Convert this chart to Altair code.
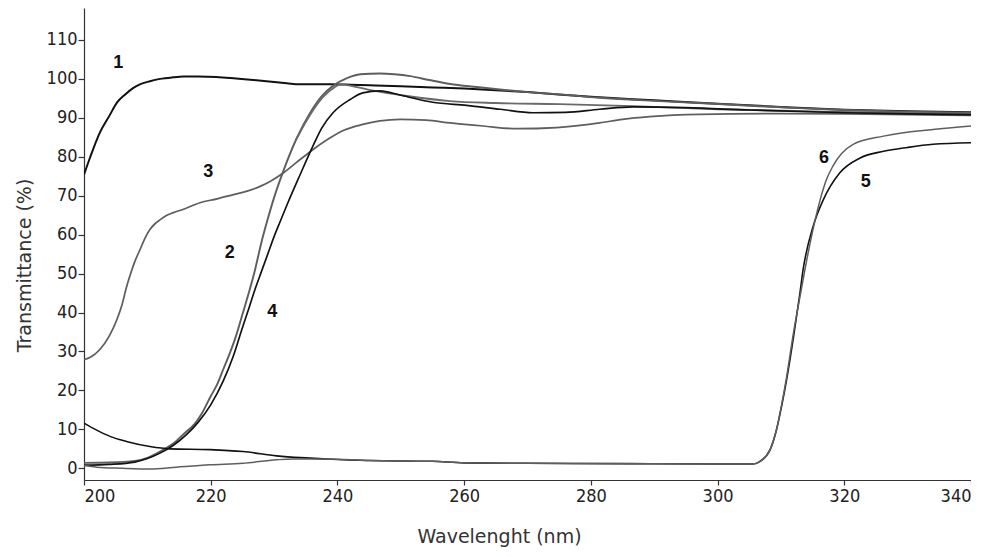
import altair as alt
import pandas as pd

# ---- data ----
c1_wl = [200, 201, 202.5, 204, 205.2, 206.5, 207.8, 209, 210.4, 212, 214, 215.7, 218, 220.9, 224, 228.8, 232, 234, 238.8, 242, 246, 250, 255, 260, 265, 270, 280, 290, 300, 310, 320, 330, 340]
c1_val = [75.4, 80, 86.2, 90.5, 93.9, 96, 97.7, 98.7, 99.4, 100, 100.4, 100.6, 100.6, 100.5, 100.1, 99.4, 98.9, 98.6, 98.6, 98.5, 98.3, 98.1, 97.8, 97.5, 97.1, 96.6, 95.4, 94.5, 93.6, 92.8, 92.1, 91.7, 91.4]

c2_wl = [200, 204, 208, 210, 212, 214.5, 216, 217.5, 218.5, 220, 221, 222, 223, 224, 225, 226, 227, 228, 229, 230, 231.5, 233.5, 235.7, 237.5, 239.3, 241.5, 243.6, 246.7, 249, 251.5, 254.5, 257.8, 262, 266, 270, 276, 281, 287, 297, 310, 320, 330, 340]
c2_val = [1.4, 1.5, 1.9, 2.7, 4.3, 6.9, 9.2, 11.5, 13.8, 18.5, 21.5, 25.5, 29.5, 34, 39.5, 45, 51, 58, 64, 69.5, 76.5, 84.5, 91.3, 95.5, 98.2, 100.2, 101.2, 101.4, 101.2, 100.7, 99.7, 98.7, 97.9, 97.2, 96.6, 95.9, 95.2, 94.6, 93.8, 92.7, 92.0, 91.6, 91.3]

c2b_wl = [233.5, 235.9, 237.7, 239.5, 240.5, 242.5, 245, 247, 251, 257.8, 265, 275, 286.7, 300, 320, 340]
c2b_val = [84.5, 91.3, 95.3, 97.8, 98.6, 98.1, 97.2, 96.6, 95.6, 94.3, 93.8, 93.5, 93.0, 92.2, 91.5, 91.0]

c3_wl = [200, 201, 202.5, 204, 205.2, 206, 206.7, 207.3, 208, 208.8, 209.6, 210.4, 211.2, 212, 213, 214, 215.5, 218.3, 221, 223.6, 226, 227.8, 229.5, 231.5, 233.5, 235.7, 238.8, 241, 244, 246.7, 249.9, 254, 257.8, 263, 268.3, 274.6, 281.4, 285, 289.3, 297.2, 310, 320, 330, 340]
c3_val = [27.9, 28.5, 30.5, 34, 38.2, 42, 46.5, 49.7, 53, 56, 59, 61.3, 62.8, 63.8, 64.9, 65.6, 66.4, 68.2, 69.2, 70.3, 71.3, 72.4, 73.8, 75.9, 78.5, 81.3, 84.8, 86.8, 88.3, 89.2, 89.6, 89.4, 88.7, 87.9, 87.2, 87.5, 88.7, 89.6, 90.3, 90.9, 91.1, 91.0, 90.8, 90.6]

c4_wl = [200, 204, 208, 210, 212, 214, 216, 218, 220, 222, 223.5, 224.9, 226, 227, 228, 229, 230, 231, 232, 234, 236.2, 237.5, 239.3, 242, 244, 246.7, 250, 255, 260.4, 265.7, 270.9, 276, 281.4, 286.7, 295, 305, 320, 330, 340]
c4_val = [0.8, 1.0, 1.6, 2.5, 3.9, 5.8, 8.4, 11.8, 16.3, 22.5, 28.5, 35.6, 41, 46, 50.5, 55, 59.5, 63.5, 67.5, 75, 83, 87.3, 91.3, 94.7, 96.4, 96.9, 95.8, 94.0, 93.2, 92.2, 91.3, 91.4, 92.2, 92.8, 92.6, 92.0, 91.3, 91.0, 90.8]

c5_wl = [200, 202, 204.1, 206.7, 210.4, 213.6, 219.9, 225.1, 230.4, 238.3, 245, 255, 260, 270, 286, 300, 305.6, 306.7, 308.3, 309.3, 310.1, 310.9, 312, 313, 313.5, 315.1, 316.7, 319.3, 322.5, 326.2, 330, 334, 340]
c5_val = [11.6, 9.8, 8.2, 6.9, 5.6, 5.0, 4.8, 4.3, 3.2, 2.4, 2.0, 1.8, 1.4, 1.3, 1.2, 1.1, 1.1, 1.8, 4.8, 9.9, 15.9, 22.8, 33.9, 45, 51, 62.2, 69, 75.9, 79.7, 81.4, 82.4, 83.2, 83.6]

c6_wl = [200, 202, 206, 210.4, 214.6, 219.9, 225.1, 230.4, 233, 238.3, 245, 255, 260, 270, 286, 300, 305.6, 306.7, 308.3, 309.3, 310.1, 310.9, 312, 313, 314.5, 316.2, 317.2, 318.2, 321.4, 326.2, 334, 340]
c6_val = [0.7, 0.3, 0.0, -0.2, 0.3, 0.9, 1.3, 2.2, 2.4, 2.4, 2.0, 1.8, 1.4, 1.3, 1.2, 1.1, 1.1, 1.8, 4.8, 9.9, 16.2, 23.5, 35, 44, 57, 69, 74.2, 77.6, 83.2, 85.3, 87.0, 87.9]

label_text = ["1", "2", "3", "4", "5", "6"]
label_wl = [205.4, 223.0, 219.6, 229.7, 323.4, 316.8]
label_val = [104.1, 55.4, 76.2, 40.2, 73.6, 79.8]

x_ticks = [200, 220, 240, 260, 280, 300, 320, 340]
y_ticks = [0, 10, 20, 30, 40, 50, 60, 70, 80, 90, 100, 110]

series = [
    ("1", c1_wl, c1_val),
    ("2", c2_wl, c2_val),
    ("2b", c2b_wl, c2b_val),
    ("3", c3_wl, c3_val),
    ("4", c4_wl, c4_val),
    ("5", c5_wl, c5_val),
    ("6", c6_wl, c6_val),
]
rows = []
for name, wl, val in series:
    for i, (a, b) in enumerate(zip(wl, val)):
        rows.append({"series": name, "wl": a, "val": b, "i": i})
df = pd.DataFrame(rows)
lab = pd.DataFrame({"t": label_text, "wl": label_wl, "val": label_val})

names = ["1", "2", "2b", "3", "4", "5", "6"]
colors = ["#111111", "#5e5e5e", "#6a6a6a", "#5e5e5e", "#111111", "#111111", "#5e5e5e"]
widths = [2.0, 1.5, 1.4, 1.6, 2.0, 2.0, 1.6]

xs = alt.Scale(domain=[200, 340], nice=False, zero=False)
ys = alt.Scale(domain=[-3, 118.2], nice=False, zero=False)

lines = alt.Chart(df).mark_line(interpolate="monotone", clip=True).encode(
    x=alt.X("wl:Q", scale=xs, axis=alt.Axis(
        values=x_ticks, title="Wavelenght (nm)", format="d",
        titleX=415, titleY=62, titleBaseline="alphabetic", titleAlign="center")),
    y=alt.Y("val:Q", scale=ys, axis=alt.Axis(
        values=y_ticks, title="Transmittance (%)", format="d",
        titleX=-54, titleY=257, titleAngle=-90, titleBaseline="alphabetic", titleAlign="center")),
    color=alt.Color("series:N", scale=alt.Scale(domain=names, range=colors), legend=None),
    strokeWidth=alt.StrokeWidth("series:N", scale=alt.Scale(domain=names, range=widths), legend=None),
    order="i:Q",
)

labels = alt.Chart(lab).mark_text(
    font="Liberation Sans", fontSize=18, fontWeight="bold", color="#111111",
    align="center", baseline="middle"
).encode(x=alt.X("wl:Q", scale=xs), y=alt.Y("val:Q", scale=ys), text="t:N")

chart = alt.layer(lines, labels).properties(
    width=887, height=472,
    autosize=alt.AutoSizeParams(type="none"),
    padding={"left": 76, "top": 0, "right": 0, "bottom": 68},
    background="white",
).configure_view(stroke=None).configure_axis(
    grid=False,
    domainColor="#333333", domainWidth=1.2,
    tickColor="#333333", tickWidth=1.2,
    labelColor="#222222", labelFont="Liberation Sans Narrow, DejaVu Sans Condensed, sans-serif",
    labelFontSize=18,
    titleColor="#333333", titleFont="DejaVu Sans", titleFontSize=19, titleFontWeight="normal",
).configure_axisX(
    tickSize=5, labelPadding=2, labelBaseline="top",
).configure_axisY(
    tickSize=6, labelPadding=1,
)

chart.save("out.html", embed_options={"renderer": "svg", "actions": False})
